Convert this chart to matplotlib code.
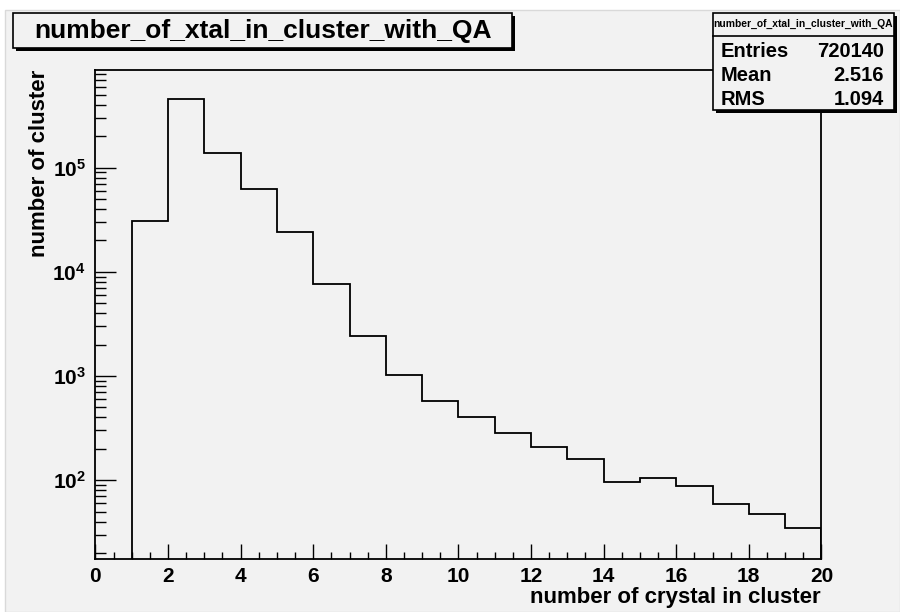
import matplotlib
matplotlib.use('Agg')
import matplotlib.pyplot as plt
from matplotlib.patches import Rectangle
from matplotlib.ticker import FixedLocator, LogLocator, NullFormatter, MultipleLocator
import numpy as np

plt.rcParams['font.family'] = ['Liberation Sans', 'DejaVu Sans']
plt.rcParams['font.weight'] = 'bold'
plt.rcParams['mathtext.fontset'] = 'custom'
plt.rcParams['mathtext.rm'] = 'Liberation Sans:bold'
plt.rcParams['mathtext.bf'] = 'Liberation Sans:bold'

# histogram content, bins of width 1 from 1 to 20
bin_edges = np.arange(1, 21)
counts = [30600, 452000, 137500, 62500, 24000, 7600, 2430, 1020, 581, 407,
          284, 210, 160, 97, 104, 88.7, 59, 47.8, 35]

hist_title = 'number_of_xtal_in_cluster_with_QA'
stat_names = ['Entries', 'Mean', 'RMS']
stat_values = ['720140', '2.516', '1.094']
x_label = 'number of crystal in cluster'
y_label = 'number of cluster'

W, H = 900, 612
bg = '#f2f2f2'


def fx(px):
    return px / W


def fy(py):
    return 1 - py / H


fig = plt.figure(figsize=(9, 6.12), dpi=100, facecolor='white')
# canvas
fig.patches.append(Rectangle((fx(4.5), 0), 1 - fx(4.5), fy(9.5), transform=fig.transFigure,
                             facecolor=bg, edgecolor='#d9d9d9', lw=1, zorder=-1))

ax = fig.add_axes([fx(95.4), fy(559), fx(821.4) - fx(95.4), fy(70) - fy(559)])
ax.set_zorder(2)
ax.set_facecolor(bg)

ax.stairs(counts, bin_edges, baseline=1e-3, color='black', lw=1.3)

ax.set_yscale('log')
ax.set_xlim(0, 20)
ax.set_ylim(17.5, 8.66e5)

ax.xaxis.set_major_locator(MultipleLocator(2))
ax.xaxis.set_minor_locator(MultipleLocator(0.5))
ax.yaxis.set_major_locator(FixedLocator([1e2, 1e3, 1e4, 1e5]))
ax.yaxis.set_minor_locator(LogLocator(base=10, subs=np.arange(2, 10)))
ax.yaxis.set_minor_formatter(NullFormatter())
ax.set_yticklabels([r'$\mathbf{10^{%d}}$' % k for k in [2, 3, 4, 5]])

ax.tick_params(axis='x', which='major', direction='in', length=14.6 * 0.72, width=1, labelsize=15, pad=6)
ax.tick_params(axis='x', which='minor', direction='in', length=7.3 * 0.72, width=1)
ax.tick_params(axis='y', which='major', direction='in', length=21 * 0.72, width=1, labelsize=15, pad=7)
ax.tick_params(axis='y', which='minor', direction='in', length=10.7 * 0.72, width=1)
for lab in ax.get_xticklabels():
    lab.set_fontweight('bold')
for sp in ax.spines.values():
    sp.set_linewidth(1.3)
    sp.set_color('black')

fig.text(fx(821), fy(598), x_label, ha='right', va='center', fontsize=16, fontweight='bold')
fig.text(fx(40), fy(70), y_label, ha='center', va='top', rotation=90, fontsize=16, fontweight='bold')


def box(x0, y0, x1, y1):
    fig.patches.append(Rectangle((fx(x0 + 3), fy(y1 + 3)), fx(x1) - fx(x0), fy(y0) - fy(y1),
                                 transform=fig.transFigure, facecolor='black', edgecolor='none', zorder=10))
    fig.patches.append(Rectangle((fx(x0), fy(y1)), fx(x1) - fx(x0), fy(y0) - fy(y1),
                                 transform=fig.transFigure, facecolor=bg, edgecolor='black', lw=1.2, zorder=11))


# title box
box(13, 13, 512, 48)
fig.text(fx(262.5), fy(31), hist_title, ha='center', va='center', fontsize=19, fontweight='bold', zorder=12)

# stats box
box(712.5, 12.5, 894, 110)
fig.lines.append(plt.Line2D([fx(712.5), fx(894)], [fy(36), fy(36)], transform=fig.transFigure,
                            color='black', lw=1.2, zorder=12))
fig.text(fx(803), fy(24), hist_title, ha='center', va='center', fontsize=7.4, fontweight='bold', zorder=12)
for i, (n, v) in enumerate(zip(stat_names, stat_values)):
    yy = [51.5, 75.8, 99.5][i]
    fig.text(fx(721), fy(yy), n, ha='left', va='center', fontsize=14.5, fontweight='bold', zorder=12)
    fig.text(fx(884), fy(yy), v, ha='right', va='center', fontsize=14.5, fontweight='bold', zorder=12)

fig.savefig('out.png', dpi=100, facecolor=fig.get_facecolor())
